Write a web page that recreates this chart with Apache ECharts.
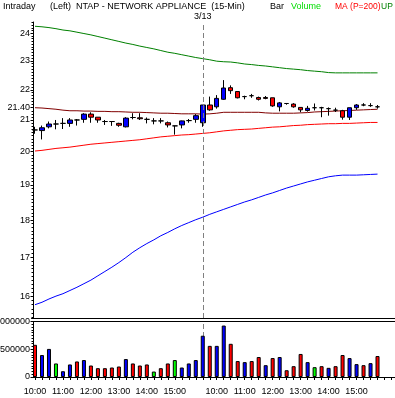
<!DOCTYPE html>
<html>
<head>
<meta charset="utf-8">
<script src="https://cdn.jsdelivr.net/npm/echarts@6/dist/echarts.min.js"></script>
<style>
html,body{margin:0;padding:0;background:#fff;}
#c{width:395px;height:398px;}
</style>
</head>
<body>
<div id="c"></div>
<script>
// ---- data ----
const categories = [
  '10:00','10:15','10:30','10:45','11:00','11:15','11:30','11:45','12:00','12:15','12:30','12:45',
  '13:00','13:15','13:30','13:45','14:00','14:15','14:30','14:45','15:00','15:15','15:30','15:45',
  '09:30','09:45','10:00','10:15','10:30','10:45','11:00','11:15','11:30','11:45','12:00','12:15',
  '12:30','12:45','13:00','13:15','13:30','13:45','14:00','14:15','14:30','14:45','15:00','15:15',
  '15:30','15:45'
];
const opens = [
  20.68,20.66,20.78,20.87,20.89,20.89,21.00,21.02,21.19,21.09,20.95,20.95,
  20.89,20.78,21.08,21.07,21.02,20.97,20.97,20.91,20.81,20.84,20.98,21.02,
  20.91,21.49,21.43,21.68,22.07,21.94,21.77,21.80,21.74,21.74,21.73,21.43,
  21.54,21.52,21.41,21.31,21.40,21.40,21.37,21.32,21.30,21.09,21.40,21.49,
  21.47,21.43
];
const closes = [
  20.68,20.75,20.87,20.87,20.89,21.00,21.00,21.19,21.09,21.00,20.95,20.95,
  20.83,21.06,21.08,21.04,21.02,20.97,20.97,20.84,20.81,20.97,20.98,21.14,
  21.49,21.33,21.71,22.06,21.97,21.73,21.77,21.80,21.68,21.71,21.46,21.56,
  21.54,21.43,21.33,21.38,21.40,21.40,21.37,21.32,21.09,21.40,21.49,21.49,
  21.47,21.43
];
const lows = [
  20.56,20.38,20.73,20.70,20.71,20.78,20.82,20.91,20.91,20.91,20.84,20.81,
  20.78,20.76,21.02,21.00,20.89,20.86,20.89,20.76,20.53,20.73,20.91,20.91,
  20.78,21.30,21.37,21.66,21.86,21.71,21.68,21.73,21.64,21.68,21.43,21.28,
  21.50,21.40,21.25,21.27,21.31,21.09,21.14,21.26,21.01,21.00,21.33,21.45,
  21.43,21.37
];
const highs = [
  20.78,20.82,20.95,21.00,21.06,21.06,21.03,21.22,21.25,21.09,21.00,20.95,
  20.91,21.09,21.22,21.22,21.08,21.06,21.06,20.95,20.81,20.98,21.03,21.19,
  21.49,21.77,21.82,22.33,22.15,21.94,21.80,21.86,21.77,21.79,21.73,21.59,
  21.54,21.55,21.41,21.46,21.54,21.43,21.41,21.40,21.33,21.40,21.52,21.55,
  21.55,21.49
];
const upperBand = [
  24.26,24.24,24.21,24.17,24.12,24.09,24.04,23.99,23.94,23.88,23.82,23.76,
  23.70,23.64,23.59,23.53,23.48,23.43,23.37,23.31,23.27,23.22,23.17,23.12,
  23.08,23.04,22.99,22.97,22.96,22.93,22.89,22.87,22.84,22.82,22.79,22.76,
  22.73,22.71,22.69,22.66,22.64,22.62,22.59,22.58,22.58,22.58,22.58,22.58,
  22.58,22.58
];
const maDark = [
  21.40,21.39,21.37,21.35,21.32,21.30,21.30,21.29,21.29,21.28,21.28,21.27,
  21.27,21.26,21.25,21.25,21.24,21.23,21.22,21.22,21.21,21.20,21.20,21.20,
  21.19,21.20,21.22,21.25,21.25,21.25,21.25,21.25,21.25,21.23,21.22,21.22,
  21.22,21.22,21.23,21.24,21.26,21.27,21.28,21.29,21.30,21.31,21.32,21.33,
  21.34,21.35
];
const maRed = [
  20.02,20.04,20.07,20.10,20.12,20.14,20.17,20.20,20.23,20.25,20.27,20.29,
  20.31,20.33,20.35,20.37,20.40,20.43,20.46,20.48,20.50,20.52,20.53,20.55,
  20.57,20.59,20.62,20.65,20.67,20.69,20.70,20.71,20.73,20.75,20.77,20.78,
  20.80,20.82,20.83,20.85,20.86,20.87,20.88,20.88,20.89,20.89,20.90,20.91,
  20.92,20.92
];
const lowerBand = [
  15.80,15.86,15.94,16.01,16.07,16.15,16.23,16.32,16.41,16.52,16.63,16.74,
  16.86,16.99,17.13,17.25,17.36,17.46,17.57,17.66,17.76,17.85,17.93,18.01,
  18.08,18.16,18.23,18.30,18.37,18.44,18.51,18.57,18.64,18.71,18.77,18.84,
  18.91,18.97,19.03,19.09,19.14,19.19,19.24,19.27,19.29,19.29,19.29,19.30,
  19.31,19.32
];
const volumes = [
  580000,396000,506000,244000,104000,226000,280000,305000,207000,159000,159000,171000,
  189000,323000,244000,207000,226000,98000,159000,244000,305000,171000,244000,305000,
  744000,561000,561000,927000,598000,287000,268000,287000,360000,213000,341000,360000,
  122000,195000,415000,268000,177000,195000,165000,195000,396000,341000,232000,213000,
  250000,378000
];
const volumeColorCodes = [
  'R','B','B','G','B','B','R','B','R','R','R','R',
  'R','B','R','R','R','G','R','R','G','B','B','B',
  'B','R','B','B','R','R','B','R','R','B','R','B',
  'R','R','R','B','G','R','B','R','R','B','B','R',
  'B','R'
];
const priceTickLabels = [16, 17, 18, 19, 20, 21, 21.40, 22, 23, 24];
const volumeTickLabels = [0, 500000, 1000000];
const PRICE_MIN = 15.48, PRICE_MAX = 24.42;
const dayBreak = '09:30';
const dayBreakLabel = '3/13';

// ---- build ----
const FONT = 'Liberation Sans';
const colorMap = {R:'#ff0000', B:'#0000ff', G:'#00ff00'};
const cats = categories.concat(['', ' ']);
const L = Math.log;
const candleData = opens.map((o,i)=>[L(o), L(closes[i]), L(lows[i]), L(highs[i])]);
const minorTicks = [];
for (let k = 155; k <= 244; k++) minorTicks.push(L(k/10));

const txt = (text, left, color, size) => ({
  text, left, top: 2, padding: 0,
  textStyle: {fontSize: size || 9, fontWeight: 'normal', color: color || '#000', fontFamily: FONT}
});
const lineSeries = (arr, color) => ({
  type:'line', xAxisIndex:0, yAxisIndex:0, data: arr.map(L), showSymbol:false, symbol:'none',
  lineStyle:{color, width:1}, z:2, silent:true
});

const chart = echarts.init(document.getElementById('c'), null, {renderer:'canvas'});
chart.setOption({
  animation:false,
  backgroundColor:'#fff',
  textStyle:{fontFamily:FONT},
  title:[
    txt('Intraday', 3), txt('(Left)', 50), txt('NTAP - NETWORK APPLIANCE  (15-Min)', 76),
    txt('Bar', 270), txt('Volume', 291, '#00dd00'), txt('MA (P=200)', 335, '#ff0000', 8.5), txt('UP (', 381, '#008000', 8.5)
  ],
  grid:[
    {left:31.5, right:0, top:22, height:296, containLabel:false, outerBoundsMode:'none'},
    {left:31.5, right:0, top:321.5, height:55.5, containLabel:false, outerBoundsMode:'none'}
  ],
  xAxis:[
    {gridIndex:0, type:'category', data:cats, boundaryGap:true, position:'bottom',
      axisLine:{show:true, lineStyle:{color:'#000', width:1}}, axisTick:{show:false}, axisLabel:{show:false}, splitLine:{show:false}},
    {gridIndex:1, type:'category', data:cats, boundaryGap:true, position:'bottom',
      axisLine:{show:true, lineStyle:{color:'#000', width:1}},
      axisTick:{show:true, interval:0, alignWithLabel:true, length:3, lineStyle:{color:'#000'}},
      axisLabel:{interval:(i, v) => /:00$/.test(v), fontSize:9, color:'#000', margin:10, fontFamily:FONT},
      splitLine:{show:false}},
    {gridIndex:1, type:'category', data:cats, boundaryGap:true, position:'top',
      axisLine:{show:true, lineStyle:{color:'#000', width:1}}, axisTick:{show:false}, axisLabel:{show:false}, splitLine:{show:false}}
  ],
  yAxis:[
    {gridIndex:0, type:'value', position:'left', min:L(PRICE_MIN), max:L(PRICE_MAX), offset:-1.5,
      axisLine:{show:true, lineStyle:{color:'#000', width:1}},
      axisTick:{show:true, length:2.5, customValues: priceTickLabels.map(L), lineStyle:{color:'#000'}},
      axisLabel:{customValues: priceTickLabels.map(L), fontSize:9, color:'#000', margin:3, fontFamily:FONT,
        formatter: v => { const p = Math.exp(v); return Math.abs(p - 21.4) < 0.01 ? '21.40' : String(Math.round(p)); }},
      splitLine:{show:false}},
    {gridIndex:0, type:'value', position:'left', min:L(PRICE_MIN), max:L(PRICE_MAX), offset:-1.5,
      axisLine:{show:false},
      axisTick:{show:true, length:1.5, customValues: minorTicks, lineStyle:{color:'#000'}},
      axisLabel:{show:false}, splitLine:{show:false}},
    {gridIndex:1, type:'value', position:'left', min:volumeTickLabels[0], max:volumeTickLabels[2], interval:500000, offset:-1.5,
      axisLine:{show:true, lineStyle:{color:'#000', width:1}},
      axisTick:{show:true, length:2.5, lineStyle:{color:'#000'}},
      minorTick:{show:true, splitNumber:10, length:1.5, lineStyle:{color:'#000'}},
      axisLabel:{fontSize:9, color:'#000', margin:3, fontFamily:FONT, formatter: v => String(v)},
      splitLine:{show:false}, minorSplitLine:{show:false}}
  ],
  series:[
    lineSeries(upperBand, '#008000'),
    lineSeries(maDark, '#800000'),
    lineSeries(maRed, '#ff0000'),
    lineSeries(lowerBand, '#0000ff'),
    {type:'candlestick', xAxisIndex:0, yAxisIndex:0, data:candleData, barWidth:5, z:3,
      itemStyle:{color:'#0000ff', color0:'#ff0000', borderColor:'#000', borderColor0:'#000', borderColorDoji:'#000', borderWidth:1},
      markLine:{silent:true, symbol:'none', animation:false,
        lineStyle:{color:'#808080', type:[5,3], width:1},
        label:{show:true, position:'end', formatter:dayBreakLabel, color:'#000', fontSize:9, distance:1, fontFamily:FONT},
        data:[{xAxis:dayBreak}]}},
    {type:'bar', xAxisIndex:1, yAxisIndex:2, barWidth:4,
      data: volumes.map((v,i)=>({value:v, itemStyle:{color:colorMap[volumeColorCodes[i]]}})),
      itemStyle:{borderColor:'#000', borderWidth:1},
      markLine:{silent:true, symbol:'none', animation:false, z:0,
        lineStyle:{color:'#808080', type:[5,3], width:1}, label:{show:false},
        data:[{xAxis:dayBreak}]}}
  ]
});
</script>
</body>
</html>
